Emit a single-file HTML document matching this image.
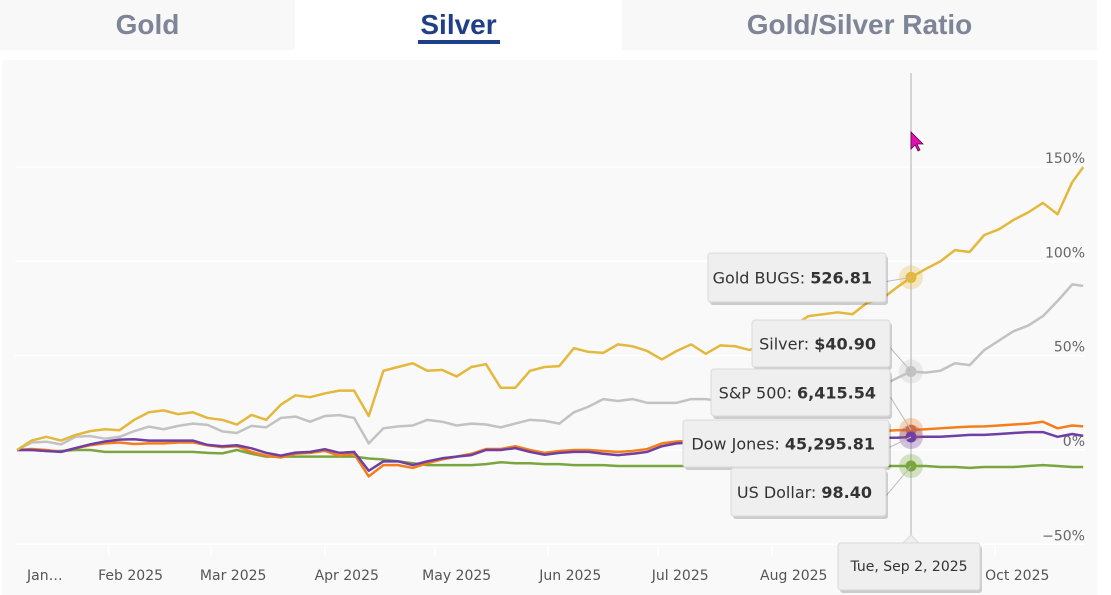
<!DOCTYPE html>
<html><head><meta charset="utf-8">
<style>
html,body{margin:0;padding:0;width:1111px;height:595px;overflow:hidden;background:#fff;font-family:"Liberation Sans","DejaVu Sans",sans-serif;}
.tabs{position:absolute;left:0;top:0;width:1097px;height:50px;}
.tab{position:absolute;top:0;height:50px;font-weight:bold;font-size:28px;color:#7d8597;text-align:center;line-height:50px;}
#panel{position:absolute;left:2px;top:60px;width:1095px;height:535px;background:#f9f9f9;}
svg text{font-family:"DejaVu Sans","Liberation Sans",sans-serif;}
</style></head><body>
<div class="tabs">
  <div class="tab" style="left:0;width:295px;background:#f8f8f9">Gold</div>
  <div class="tab" style="left:295px;width:327px;background:#fff;color:#1f3f88">Silver<div style="position:absolute;left:123px;top:40px;width:82px;height:4px;background:#1f3f88"></div></div>
  <div class="tab" style="left:622px;width:475px;background:#f8f8f9">Gold/Silver Ratio</div>
</div>
<div id="panel"></div>
<svg id="chart" width="1111" height="595" style="position:absolute;left:0;top:0"></svg>
<script>
const days=[];for(let i=0;i<73;i++)days.push(1+4*i);days.push(292);
const goldBugs=[0,5,7,5,8,10,11,10.5,16,20,21,19,20,17,16,13.5,18.6,16,24,29,28,30,31.5,31.5,18,42,44,46,42,42.5,39,44,45.5,33,33,42,44,44.5,54,52,51.5,56,55,52.5,48,52.5,56,51,55.5,55,53,57,56,66,71,72,73,72,78,80,86,91.5,96,100,106,105,114,117,122,126,131,125,142,150];
const silver=[0,4,4.4,3,7,7.4,6,7,10,12.4,11,12.8,14,13.3,9.9,9,12.8,12,17,17.7,15,18,18.5,17,3.5,11.5,12.5,13,16,15,13,14,13.5,12,14,16,15.5,14,20,23,27,26,27,25,25,25,27,27,26,25,25,25,26,27,28,29,30,31,32,34,38,41.6,41,42,46,45,53,58,63,66,71,79,87.8,87];
const sp500=[0,0.5,0,-1,1,2.5,3.5,4,3.2,3.5,3.5,4,4,2.5,1.5,2,-1,-3,-4,-2,-1.5,-0.5,-3,-2,-14,-8,-8,-9.5,-7,-5,-3.5,-2,0.5,0.5,2,0,-1.5,-0.5,0,0,-0.5,-1,-0.5,0.5,3.5,4.5,5,5.5,6,6.5,7,7.5,8,8.5,9,9,9.5,9.5,10,10,10.5,10.6,11,11.5,12,12.4,12.5,13,13.5,14,15,11.5,13,12.5];
const dow=[0,0,-0.5,-1,1,3,4.5,5.5,5.7,5,5,5,5,2.7,2,2.5,0.9,-1.5,-3,-1.4,-1,0.4,-1.5,-1,-11,-6,-6,-8,-6,-4.4,-3.5,-2.7,0,0,1,-1,-2.5,-1.5,-1,-1,-2,-2.7,-2,-1,2,3.5,4,4.5,5,5,5,5,5,5.5,5.5,5.5,6,6,6,6.5,6.5,6.9,7,7,7.5,8,8,8.5,9,9.5,9.5,7,8.5,7.5];
const usd=[0,0,-0.5,-0.5,0,0,-1,-1,-1,-1,-1,-1,-1,-1.5,-1.8,0,-2,-3.5,-3.5,-3.5,-3.5,-3.5,-3.5,-3.5,-4.5,-5,-6,-7,-8,-8,-8,-8,-7.5,-6.5,-7,-7,-7.5,-7.5,-8,-8,-8,-8.5,-8.5,-8.5,-8.5,-8.5,-8.5,-8.5,-8.5,-8.5,-8.5,-8.5,-8.5,-8.5,-8,-8,-8.5,-8.5,-8.5,-8.5,-8.5,-8.5,-8.5,-9,-9,-9.5,-9,-9,-9,-8.5,-8,-8.5,-9,-9];
const yTicks=[150,100,50,0,-50];
const yTickLabels=["150%","100%","50%","0%","−50%"];
const monthDays=[1,32,60,91,121,152,182,213,244,274];
const monthLabels=["Jan…","Feb 2025","Mar 2025","Apr 2025","May 2025","Jun 2025","Jul 2025","Aug 2025","Sep 2025","Oct 2025"];
const hoverDay=245;

const X=d=>17+(d-1)*3.664;
const Y=v=>450-v*1.886;
const NS="http://www.w3.org/2000/svg";
const svg=document.getElementById('chart');
function mk(tag,attrs,parent){const e=document.createElementNS(NS,tag);for(const k in attrs)e.setAttribute(k,attrs[k]);(parent||svg).appendChild(e);return e;}

yTicks.forEach((t,i)=>{
  const g=mk('line',{x1:15,x2:1085,y1:Y(t),y2:Y(t),stroke:'#ffffff','stroke-width':1.5});
  
  
  const tx=mk('text',{x:1085,y:Y(t)-4,'text-anchor':'end','font-size':14,fill:'#666'});
  tx.textContent=yTickLabels[i];
  
  
});
monthDays.forEach((d,i)=>{
  const tk=mk('line',{x1:X(d)-22,x2:X(d)-22,y1:546,y2:556,stroke:'#fff','stroke-width':1.5});
  
  
  const tx=mk('text',{x:i===0?27:X(d),y:580,'text-anchor':i===0?'start':'middle','font-size':14,fill:'#555'});
  tx.textContent=monthLabels[i];
  
  
});
const hl=mk('line',{x1:X(hoverDay),x2:X(hoverDay),y1:73,y2:545,stroke:'#c8c8c8','stroke-width':1.5});



const series=[
  {name:'us-dollar',data:usd,color:'#7aa63f',label:'US Dollar: ',val:'98.40'},
  {name:'silver',data:silver,color:'#c2c2c2',label:'Silver: ',val:'$40.90'},
  {name:'sp500',data:sp500,color:'#f27f1b',label:'S&P 500: ',val:'6,415.54'},
  {name:'dow-jones',data:dow,color:'#6f3fa3',label:'Dow Jones: ',val:'45,295.81'},
  {name:'gold-bugs',data:goldBugs,color:'#e4b83c',label:'Gold BUGS: ',val:'526.81'}
];
function valAt(arr,d){for(let i=0;i<days.length-1;i++){if(d>=days[i]&&d<=days[i+1]){const f=(d-days[i])/(days[i+1]-days[i]);return arr[i]+f*(arr[i+1]-arr[i]);}}return arr[arr.length-1];}
series.forEach(s=>{
  const p=mk('polyline',{points:days.map((d,i)=>X(d)+','+Y(s.data[i])).join(' '),fill:'none',stroke:s.color,'stroke-width':2.5,'stroke-linejoin':'round'});
  
  
});
series.forEach(s=>{
  const v=valAt(s.data,hoverDay);
  const h=mk('circle',{cx:X(hoverDay),cy:Y(v),r:12,fill:s.color,opacity:0.3});
  
  
  const c=mk('circle',{cx:X(hoverDay),cy:Y(v),r:5.5,fill:s.color});
  
  
});
// tooltips
const boxes=[
  {s:4,x:708,y:253,w:178,h:49},
  {s:1,x:752,y:320,w:138,h:47},
  {s:2,x:711,y:369,w:179,h:47},
  {s:3,x:683,y:420,w:206,h:47},
  {s:0,x:731,y:468,w:155,h:48}
];
boxes.forEach(b=>{
  const s=series[b.s];const v=valAt(s.data,hoverDay);
  const ln=mk('line',{x1:b.x+b.w,y1:b.y+b.h/2+4,x2:X(hoverDay),y2:Y(v),stroke:'#bbb','stroke-width':1});
  
  
  const g=mk('g',{});
  
  
  mk('rect',{x:b.x+2,y:b.y+3,width:b.w,height:b.h,rx:3,fill:'rgba(0,0,0,0.18)'},g);
  mk('rect',{x:b.x,y:b.y,width:b.w,height:b.h,rx:3,fill:'#efefef',stroke:'#dadada'},g);
  const t=mk('text',{x:b.x+b.w-14,y:b.y+b.h/2+6,'text-anchor':'end','font-size':16,fill:'#333'},g);
  const a=mk('tspan',{},t);a.textContent=s.label;
  const bb=mk('tspan',{'font-weight':'bold'},t);bb.textContent=s.val;
});
const dg=mk('g',{});


mk('rect',{x:840,y:546,width:142,height:47,rx:3,fill:'rgba(0,0,0,0.18)'},dg);
mk('rect',{x:838,y:543,width:142,height:47,rx:3,fill:'#efefef',stroke:'#dadada'},dg);
mk('polygon',{points:'903,543 911,535 919,543',fill:'#efefef',stroke:'#dadada'},dg);
const dt=mk('text',{x:909,y:571,'text-anchor':'middle','font-size':14,fill:'#333'},dg);
dt.textContent='Tue, Sep 2, 2025';
const cur=mk('polygon',{points:'911,132 911,149 915,145 918,151 920,150 917,144 923,144',fill:'#e010b0',stroke:'#600050','stroke-width':0.8});


</script>
</body></html>
